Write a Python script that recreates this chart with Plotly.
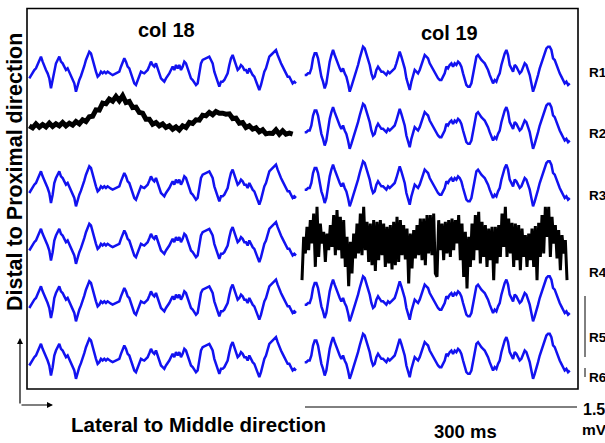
import plotly.graph_objects as go

# ---------------- data ----------------
# amplitudes in arbitrary units (1 unit ~ 6 uV); 1.5 mV scale bar ~ 240 units
col18_blue = [-15,-5,5,10,15,28,40,50,35,25,10,0,-15,-45,-20,15,30,40,50,35,30,20,10,15,5,-10,-20,-30,-55,-35,
              -20,-8,5,22,40,55,65,60,40,20,5,-10,-5,5,0,5,0,5,0,-2,-5,-2,0,2,5,20,35,45,35,20,15,0,-15,-30,-35,
              -20,-8,5,2,0,5,10,22,35,25,20,30,15,0,-15,-20,-25,
              -15,-5,0,10,20,10,25,15,25,10,20,35,30,15,0,-15,-20,-30,-35,-30,0,30,40,42,45,48,50,40,30,5,-10,
              -30,-40,-25,-25,-20,-10,0,25,45,55,40,20,10,15,25,20,10,10,0,15,5,-5,-10,-25,-35,-50,-35,-10,5,15,
              30,50,55,60,65,70,55,40,30,20,10,0,-10,-10,-20,-30,-25,-30]
col19_blue = [-5,-5,0,0,15,45,60,60,45,10,-10,-25,-45,-30,5,35,55,70,55,40,25,15,5,15,0,-10,-30,-55,-40,-25,
              -10,5,25,45,60,80,75,60,45,25,0,-15,-10,10,20,10,5,5,0,-5,5,0,5,10,15,30,50,65,50,35,15,-15,-30,
              -50,-25,-5,10,5,0,10,25,40,55,50,45,30,20,15,5,-10,-15,
              -20,-20,-10,0,20,15,25,30,20,30,25,35,30,20,0,-20,-35,-40,-40,-30,0,30,50,55,45,40,35,30,20,10,-5,
              -20,-30,-20,-25,-10,0,25,45,60,70,55,25,15,5,25,20,10,0,5,15,30,25,10,-5,-30,-55,-40,-25,-5,15,30,
              50,65,75,80,80,70,45,40,25,15,0,-10,-20,-30,-25,-35,-30]
col18_r2_black = [14,8,20,10,18,11,22,12,20,14,24,14,22,16,27,20,32,27,41,43,62,61,82,80,94,88,102,89,104,84,
                  87,69,70,54,52,34,34,19,24,14,20,9,14,4,11,2,14,9,24,21,32,31,46,44,54,47,57,52,52,49,50,36,
                  37,22,24,9,14,4,8,-4,2,-10,-8,-9,2,-11,-1,-11,-8,-11]
col19_r4_black = [-104,26,-24,56,-14,76,6,96,-64,116,-34,66,6,41,-49,36,-14,61,-4,91,-29,106,-14,86,-39,76,-64,
                  26,-122,11,-84,36,-39,66,-24,96,-29,116,-14,71,-49,66,-59,76,-76,71,-44,76,-29,66,-64,56,-54,
                  61,-72,71,-59,86,-49,76,-29,61,-42,51,-114,36,-69,46,-39,61,-29,81,-44,81,-59,91,-24,91,-29,96,
                  -84,
                  -94,76,-14,66,-44,71,-24,76,-34,81,-14,76,6,91,-44,66,-94,41,-129,26,-64,66,-44,91,-14,101,-54,
                  71,-34,61,-64,51,-44,56,-104,56,-54,61,-34,96,-4,116,-34,81,-24,68,-64,66,-44,61,-74,51,-34,31,
                  -64,36,-44,51,-64,58,-104,68,-34,91,-24,116,26,116,-34,86,6,61,-39,46,-74,31,-24,16,-104]

row_labels = ["R1", "R2", "R3", "R4", "R5", "R6"]
col_labels = ["col 18", "col 19"]
SAMPLE_MS = 1.852          # blue / R4 sampling interval
SAMPLE_MS_R2 = 3.704       # col 18 R2 sampling interval
COL19_START_MS = 306.0
COL19_R4_START_MS = 303.0

# ---------------- figure ----------------
W, H = 605, 443
ROW_BASE = [1109, 937.5, 765, 592.5, 420, 247.5]   # baselines of rows R1..R6 (y units)
BLUE = "rgb(18,18,240)"

fig = go.Figure()

def add(xs0, dt, vals, base, color, width):
    fig.add_trace(go.Scatter(
        x=[xs0 + i * dt for i in range(len(vals))],
        y=[base + v for v in vals],
        mode="lines", line=dict(color=color, width=width), hoverinfo="skip", showlegend=False))

for r in range(6):
    if r == 1:
        add(0.0, SAMPLE_MS_R2, col18_r2_black, ROW_BASE[r], "black", 5.0)
    else:
        add(0.0, SAMPLE_MS, col18_blue, ROW_BASE[r], BLUE, 2.5)
    if r == 3:
        add(COL19_R4_START_MS, SAMPLE_MS, col19_r4_black, ROW_BASE[r], "black", 3.0)
    else:
        add(COL19_START_MS, SAMPLE_MS, col19_blue, ROW_BASE[r], BLUE, 2.5)

MS_PER_PX = 300 / 270
X0_PX = 29.3
fig.update_xaxes(range=[-X0_PX * MS_PER_PX, (W - X0_PX) * MS_PER_PX], visible=False, fixedrange=True)
fig.update_yaxes(range=[0, H * 3], visible=False, fixedrange=True)

def px(x):
    return x / W
def py(y):
    return 1 - y / H

shapes = [
    dict(type="rect", xref="paper", yref="paper", x0=px(27), x1=px(578), y0=py(389), y1=py(8.5),
         line=dict(color="black", width=1.6)),
    dict(type="line", xref="paper", yref="paper", x0=px(305), x1=px(577), y0=py(407), y1=py(407),
         line=dict(color="black", width=1)),
    dict(type="line", xref="paper", yref="paper", x0=px(585), x1=px(585), y0=py(296), y1=py(357),
         line=dict(color="black", width=1)),
    dict(type="line", xref="paper", yref="paper", x0=px(585), x1=px(585), y0=py(368), y1=py(377),
         line=dict(color="black", width=1)),
]
fig.update_layout(shapes=shapes)

FONT = "Arial, Liberation Sans, sans-serif"

def text(t, x, y, size, xanchor="center", angle=0):
    return dict(text="<b>%s</b>" % t, x=px(x), y=py(y), xref="paper", yref="paper",
                xanchor=xanchor, yanchor="middle", textangle=angle, showarrow=False,
                font=dict(family=FONT, size=size, color="black"))

ann = [
    text(col_labels[0], 166, 30, 20),
    text(col_labels[1], 449, 33, 20),
    text("Distal to Proximal direction", 15, 172, 21.5, angle=-90),
    text("Lateral to Middle direction", 198, 424, 20.5),
    text("300 ms", 465, 431, 18.5),
    text("1.5", 581, 409, 16, xanchor="left"),
    text("mV", 580, 429, 15.5, xanchor="left"),
]
label_y = [72, 133, 195, 272, 337, 377]
for lab, ly in zip(row_labels, label_y):
    ann.append(text(lab, 586.5, ly, 13.5, xanchor="left"))
# direction arrows
ann.append(dict(text="", x=px(20), y=py(338), xref="paper", yref="paper", ax=0, ay=67,
                showarrow=True, arrowhead=2, arrowsize=1, arrowwidth=1.2, arrowcolor="black"))
ann.append(dict(text="", x=px(53), y=py(405), xref="paper", yref="paper", ax=-33, ay=0,
                showarrow=True, arrowhead=2, arrowsize=1, arrowwidth=1.2, arrowcolor="black"))
fig.update_layout(annotations=ann)

fig.update_layout(width=W, height=H, autosize=False, margin=dict(l=0, r=0, t=0, b=0),
                  paper_bgcolor="white", plot_bgcolor="white")

fig.write_html("out.html", config={"displayModeBar": False},
               post_script="document.body.style.margin='0';document.body.style.overflow='hidden';")
